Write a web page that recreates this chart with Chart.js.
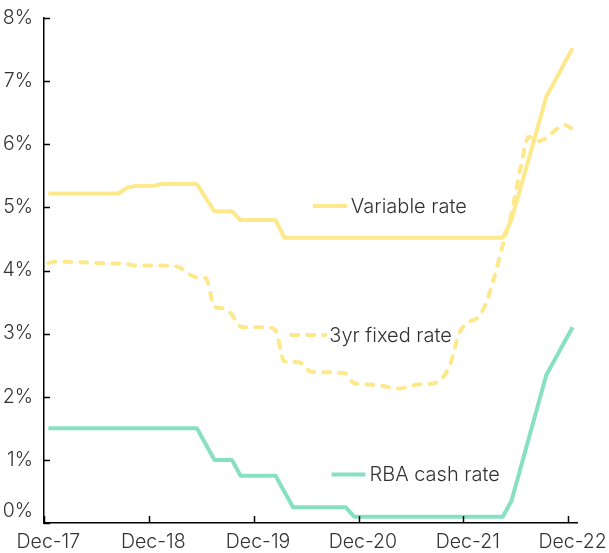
<!DOCTYPE html>
<html><head><meta charset="utf-8">
<script src="https://cdn.jsdelivr.net/npm/chart.js@4/dist/chart.umd.min.js"></script>
<style>html,body{margin:0;padding:0;background:#fff}#wrap{width:609px;height:553px;position:relative}</style>
</head><body><div id="wrap"><canvas id="c" width="609" height="553"></canvas></div>
<script>
const months = ['Dec-17',
 'Jan-18','Feb-18','Mar-18','Apr-18','May-18','Jun-18','Jul-18','Aug-18','Sep-18','Oct-18','Nov-18','Dec-18',
 'Jan-19','Feb-19','Mar-19','Apr-19','May-19','Jun-19','Jul-19','Aug-19','Sep-19','Oct-19','Nov-19','Dec-19',
 'Jan-20','Feb-20','Mar-20','Apr-20','May-20','Jun-20','Jul-20','Aug-20','Sep-20','Oct-20','Nov-20','Dec-20',
 'Jan-21','Feb-21','Mar-21','Apr-21','May-21','Jun-21','Jul-21','Aug-21','Sep-21','Oct-21','Nov-21','Dec-21',
 'Jan-22','Feb-22','Mar-22','Apr-22','May-22','Jun-22','Jul-22','Aug-22','Sep-22','Oct-22','Nov-22','Dec-22'];

const variableRate = [5.22,5.22,5.22,5.22,5.22,5.22,5.22,5.22,5.22,5.31,5.34,5.34,5.34,
 5.37,5.37,5.37,5.37,5.37,5.15,4.94,4.94,4.94,4.80,4.80,4.80,
 4.80,4.80,4.52,4.52,4.52,4.52,4.52,4.52,4.52,4.52,4.52,4.52,
 4.52,4.52,4.52,4.52,4.52,4.52,4.52,4.52,4.52,4.52,4.52,4.52,
 4.52,4.52,4.52,4.52,4.80,5.29,5.78,6.27,6.76,7.01,7.27,7.52];

const fixedRate3yr = [4.12,4.14,4.14,4.13,4.13,4.12,4.12,4.11,4.11,4.10,4.08,4.08,4.08,
 4.08,4.07,4.05,3.95,3.89,3.88,3.43,3.40,3.30,3.11,3.10,3.10,
 3.10,3.05,2.56,2.55,2.53,2.40,2.39,2.39,2.38,2.37,2.21,2.20,
 2.19,2.18,2.15,2.13,2.15,2.19,2.20,2.21,2.28,2.52,3.00,3.18,
 3.24,3.45,3.88,4.40,4.90,5.60,6.12,6.05,6.10,6.22,6.31,6.24];

const cashRate = [1.5,1.5,1.5,1.5,1.5,1.5,1.5,1.5,1.5,1.5,1.5,1.5,1.5,
 1.5,1.5,1.5,1.5,1.5,1.25,1.0,1.0,1.0,0.75,0.75,0.75,
 0.75,0.75,0.5,0.25,0.25,0.25,0.25,0.25,0.25,0.25,0.1,0.1,
 0.1,0.1,0.1,0.1,0.1,0.1,0.1,0.1,0.1,0.1,0.1,0.1,
 0.1,0.1,0.1,0.1,0.35,0.85,1.35,1.85,2.35,2.6,2.85,3.1];

const xTickLabels = ['Dec-17','Dec-18','Dec-19','Dec-20','Dec-21','Dec-22'];
const yTickValues = [0,1,2,3,4,5,6,7,8];
const seriesNames = ['Variable rate','3yr fixed rate','RBA cash rate'];

const YELLOW = '#fde98c';
const GREEN = '#88e0c3';
const TEXT = '#333333';
const FONT_FAMILY = 'Inter, "DejaVu Sans", sans-serif';
const FONT = {family: FONT_FAMILY, size: 19.5, weight: '300'};
const LABEL_FONT_SIZE = 20;

// inline label anchors (index, value) -> placed through the chart scales
const inlineLabels = [
  {name: seriesNames[0], x: 30.27, y: 5.02, color: YELLOW, dash: []},
  {name: seriesNames[1], x: 27.8, y: 2.98, color: YELLOW, dash: [7, 9]},
  {name: seriesNames[2], x: 32.4, y: 0.77, color: GREEN, dash: []}
];

const decorPlugin = {
  id: 'decor',
  afterDraw(chart) {
    const {ctx, chartArea: ca, scales: {x: xs, y: ys}} = chart;
    ctx.save();
    // inward ticks
    ctx.strokeStyle = '#000';
    ctx.lineWidth = 1.5;
    yTickValues.forEach(v => {
      const py = Math.round(ys.getPixelForValue(v)) + 0.5;
      ctx.beginPath(); ctx.moveTo(ca.left, py); ctx.lineTo(ca.left + 6, py); ctx.stroke();
    });
    const half = (xs.getPixelForValue(1) - xs.getPixelForValue(0)) / 2;
    xTickLabels.forEach(l => {
      const i = months.indexOf(l);
      const px = Math.round(xs.getPixelForValue(i) - half) + 0.5;
      ctx.beginPath(); ctx.moveTo(px, ca.bottom); ctx.lineTo(px, ca.bottom - 7); ctx.stroke();
    });
    // 0% label, lifted above the x axis labels
    ctx.fillStyle = TEXT;
    ctx.font = `${FONT.weight} ${FONT.size}px ${FONT_FAMILY}`;
    ctx.textAlign = 'right';
    ctx.textBaseline = 'middle';
    ctx.fillText('0%', ca.left - 11, ys.getPixelForValue(0) - 12);
    // inline series labels
    ctx.font = `${FONT.weight} ${LABEL_FONT_SIZE}px ${FONT_FAMILY}`;
    inlineLabels.forEach(lb => {
      const x0 = xs.getPixelForValue(lb.x);
      const py = ys.getPixelForValue(lb.y);
      ctx.strokeStyle = lb.color;
      ctx.lineWidth = 4;
      ctx.lineCap = lb.dash.length ? 'round' : 'butt';
      ctx.setLineDash(lb.dash);
      ctx.beginPath(); ctx.moveTo(x0, py); ctx.lineTo(x0 + 34, py); ctx.stroke();
      ctx.setLineDash([]);
      ctx.fillStyle = TEXT;
      ctx.textAlign = 'left';
      ctx.fillText(lb.name, x0 + 38, py + 1);
    });
    ctx.restore();
  }
};

new Chart(document.getElementById('c'), {
  type: 'line',
  data: {
    labels: months,
    datasets: [
      {label: seriesNames[0], data: variableRate, borderColor: YELLOW, borderWidth: 4, tension: 0, borderJoinStyle: 'round'},
      {label: seriesNames[1], data: fixedRate3yr, borderColor: YELLOW, borderWidth: 4, borderDash: [7, 9], borderCapStyle: 'round', cubicInterpolationMode: 'monotone'},
      {label: seriesNames[2], data: cashRate, borderColor: GREEN, borderWidth: 4, tension: 0, borderJoinStyle: 'round'}
    ]
  },
  options: {
    responsive: false,
    animation: false,
    devicePixelRatio: 1,
    layout: {padding: {top: 18, right: 32, left: 0, bottom: 0}},
    plugins: {legend: {display: false}, tooltip: {enabled: false}},
    elements: {point: {radius: 0}},
    scales: {
      x: {
        type: 'category',
        offset: true,
        grid: {display: false, offset: true, drawTicks: false},
        border: {display: true, color: '#000', width: 1.5},
        ticks: {
          autoSkip: false, maxRotation: 0, minRotation: 0, color: TEXT, font: FONT, padding: 7,
          callback: (v, i) => xTickLabels.includes(months[i]) ? months[i] : ''
        },
        afterFit(s) { s.height = 30; s.paddingLeft = 0; s.paddingRight = 0; }
      },
      y: {
        min: 0, max: 8,
        grid: {display: false, drawTicks: false},
        border: {display: true, color: '#000', width: 1.5},
        ticks: {
          stepSize: 1, color: ctx => (ctx.tick && ctx.tick.value === 0) ? 'rgba(0,0,0,0)' : TEXT,
          font: FONT, padding: 11, callback: v => v + '%'
        },
        afterFit(s) { s.width = 44; s.paddingTop = 0; s.paddingBottom = 0; }
      }
    }
  },
  plugins: [decorPlugin]
});
</script></body></html>
